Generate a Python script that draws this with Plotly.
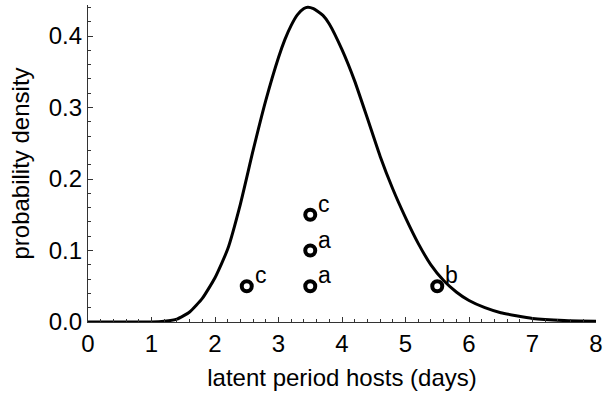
import plotly.graph_objects as go

# Probability density of the host latent period (days)
curve_x = [0.0, 0.5, 1.0, 1.2, 1.4, 1.6, 1.8, 2.0, 2.2, 2.4, 2.6, 2.8, 3.0, 3.1,
           3.2, 3.3, 3.4, 3.46, 3.55, 3.7, 3.8, 4.0, 4.2, 4.4, 4.6, 4.8, 5.0,
           5.2, 5.4, 5.6, 5.8, 6.0, 6.25, 6.5, 7.0, 7.5, 8.0]
curve_y = [0.0, 0.0, 0.0, 0.001, 0.004, 0.014, 0.033, 0.062, 0.102, 0.165, 0.240,
           0.310, 0.370, 0.395, 0.415, 0.430, 0.4385, 0.4405, 0.4385, 0.429,
           0.417, 0.381, 0.337, 0.285, 0.232, 0.186, 0.146, 0.110, 0.080, 0.058,
           0.042, 0.030, 0.020, 0.013, 0.005, 0.002, 0.001]

# Observed latent periods with their source labels
obs_x = [2.5, 3.5, 3.5, 3.5, 5.5]
obs_y = [0.05, 0.05, 0.10, 0.15, 0.05]
obs_label = ["c", "a", "a", "c", "b"]

x_ticks = [0, 1, 2, 3, 4, 5, 6, 7, 8]
y_ticks = [0.0, 0.1, 0.2, 0.3, 0.4]
y_tick_text = ["0.0", "0.1", "0.2", "0.3", "0.4"]

font_family = "Liberation Sans, Arial, sans-serif"

fig = go.Figure()
fig.add_trace(go.Scatter(
    x=curve_x, y=curve_y, mode="lines",
    line=dict(color="black", width=3, shape="spline", smoothing=0.5),
    hoverinfo="skip", showlegend=False,
))
fig.add_trace(go.Scatter(
    x=obs_x, y=obs_y, mode="markers",
    marker=dict(symbol="circle-open", size=10, color="black",
                line=dict(color="black", width=4)),
    showlegend=False, cliponaxis=False,
))

for xv, yv, lab in zip(obs_x, obs_y, obs_label):
    fig.add_annotation(
        x=xv, y=yv, text=lab, showarrow=False,
        xanchor="left", yanchor="middle", xshift=6, yshift=11,
        font=dict(family=font_family, size=23, color="black"),
    )

axis_common = dict(
    showgrid=False, zeroline=False, showline=True,
    linecolor="#333", linewidth=1.3, mirror=False,
    ticks="inside", ticklen=5, tickwidth=1, tickcolor="#333",
    tickfont=dict(family=font_family, size=24, color="black"),
)

fig.update_xaxes(
    range=[0, 8], tickvals=x_ticks,
    minor=dict(dtick=0.2, ticks="inside", ticklen=3, tickwidth=1, tickcolor="#333"),
    title=dict(text="latent period hosts (days)",
               font=dict(family=font_family, size=24, color="black"), standoff=13),
    **axis_common,
)
fig.update_yaxes(
    range=[0, 0.4435], tickvals=y_ticks, ticktext=y_tick_text,
    minor=dict(dtick=0.02, ticks="inside", ticklen=3, tickwidth=1, tickcolor="#333"),
    title=dict(text="probability density",
               font=dict(family=font_family, size=24, color="black"), standoff=12),
    **axis_common,
)

fig.update_layout(
    width=608, height=398,
    margin=dict(l=88, r=7, t=5, b=76),
    plot_bgcolor="white", paper_bgcolor="white",
)

fig.write_html("out.html")
